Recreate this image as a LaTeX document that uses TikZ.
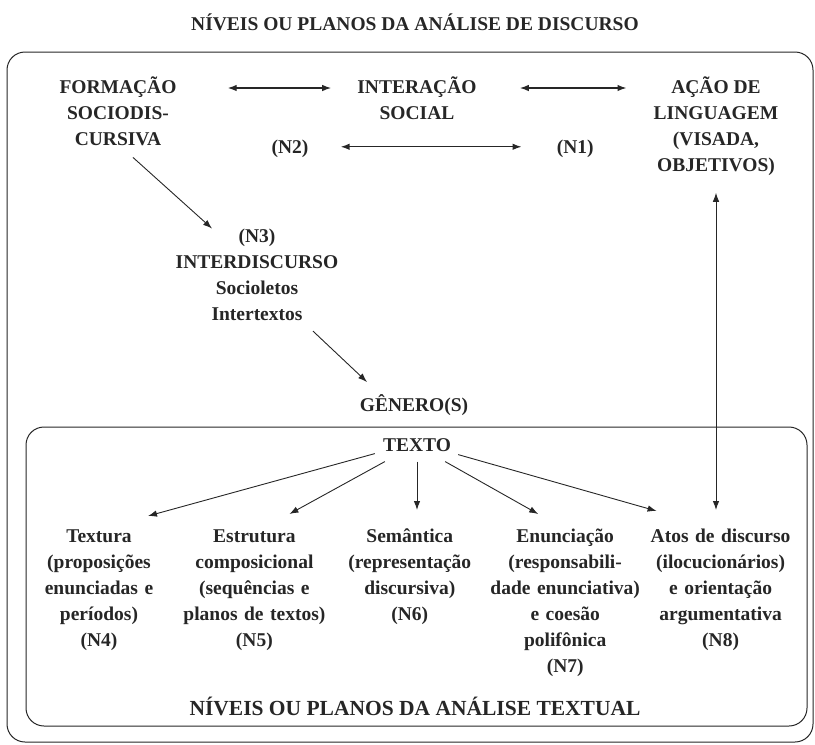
\documentclass[tikz,border=0pt]{standalone}
\usepackage{fontspec}
\setmainfont{Liberation Serif}
\usetikzlibrary{arrows.meta,positioning}
\tikzset{>={Latex[length=9pt,width=6.5pt]}}

\begin{document}
\begin{tikzpicture}
	[x=1pt, y=-1pt, inner sep=0pt, align=center, color=black!85,
	plano/.style={font=\bfseries\fontsize{19.5}{26}\selectfont, anchor=north,
		execute at begin node={\rule{0pt}{18pt}}},
	coluna/.style={plano, text width=152pt},
	titulo/.style={font=\bfseries\fontsize{#1}{22}\selectfont},
	moldura/.style={draw, line width=1pt, rounded corners=18pt},
	ligacao/.style={<->, line width=1.3pt},
	seta/.style={->, line width=0.9pt}]

	\useasboundingbox (0,0) rectangle (815,745);

	% molduras
	\draw[moldura] (7,52) rectangle (813,742);
	\draw[moldura] (26,427) rectangle (807,726);

	\node[titulo=19.5] (discurso) at (415,22) {NÍVEIS OU PLANOS DA ANÁLISE DE DISCURSO};

	\node[plano] (formacao)  at (118,76.5)  {FORMAÇÃO\\SOCIODIS-\\CURSIVA};
	\node[plano] (interacao) at (417,76.5)  {INTERAÇÃO\\SOCIAL};
	\node[plano] (acao)      at (716,76.5)  {AÇÃO DE\\LINGUAGEM\\(VISADA,\\OBJETIVOS)};
	\node[plano] (n2)        at (290,135.5) {(N2)};
	\node[plano] (n1)        [right=248pt of n2] {(N1)};
	\node[plano] (interdisc) at (257,228.5) {(N3)\\INTERDISCURSO\\Socioletos\\Intertextos};
	\node[plano] (genero)    at (414,393.5) {GÊNERO(S)};
	\node[plano] (texto)     at (417,433.5) {TEXTO};

	\node[coluna] (textura)    at (99,524.5) {Textura\\(proposições\\enunciadas e\\períodos)\\(N4)};
	\node[coluna] (estrutura)  [right=3pt of textura.north east, anchor=north west]    {Estrutura\\composicional\\(sequências e\\planos de textos)\\(N5)};
	\node[coluna] (semantica)  [right=3pt of estrutura.north east, anchor=north west]  {Semântica\\(representação\\discursiva)\\(N6)};
	\node[coluna] (enunciacao) [right=3pt of semantica.north east, anchor=north west]  {Enunciação\\(responsabili-\\dade enunciativa)\\e coesão\\polifônica\\(N7)};
	\node[coluna] (atos)       [right=3pt of enunciacao.north east, anchor=north west] {Atos de discurso\\(ilocucionários)\\e orientação\\argumentativa\\(N8)};

	\node[titulo=21.5] (textual) at (415,706) {NÍVEIS OU PLANOS DA ANÁLISE TEXTUAL};

	% planos do discurso
	\draw[ligacao, shorten <=51pt, shorten >=26pt] ([yshift=-11.5pt]formacao.north east) -- ([yshift=-11.5pt]interacao.north west);
	\draw[ligacao, shorten <=43pt, shorten >=27pt] ([yshift=-11.5pt]interacao.north east) -- ([yshift=-11.5pt]acao.north west);
	\draw[ligacao, shorten <=32pt, shorten >=35pt] (n2) -- (n1);
	\draw[seta] ([xshift=15pt,yshift=-11.5pt]formacao.south) -- ([xshift=-45pt]interdisc.north);
	\draw[seta] ([xshift=56pt,yshift=-10.5pt]interdisc.south) -- ([xshift=-47pt,yshift=11.5pt]genero.north);
	\draw[<->, line width=0.9pt, shorten <=17pt, shorten >=14.5pt] (acao.south) -- (acao.south |- atos.north);

	% planos do texto
	\draw[seta] ([xshift=-8pt,yshift=-1.5pt]texto.south west) -- ([xshift=49pt,yshift=8.5pt]textura.north);
	\draw[seta] ([xshift=2pt,yshift=-9.5pt]texto.south west)  -- ([xshift=35pt,yshift=10.5pt]estrutura.north);
	\draw[seta, shorten <=9.5pt, shorten >=14.5pt] (texto.south) -- (texto.south |- semantica.north);
	\draw[seta] ([xshift=-6pt,yshift=-9.5pt]texto.south east) -- ([xshift=-27pt,yshift=10.5pt]enunciacao.north);
	\draw[seta] ([xshift=7pt,yshift=-2.5pt]texto.south east)  -- ([xshift=-64pt,yshift=13.5pt]atos.north);
\end{tikzpicture}
\end{document}
